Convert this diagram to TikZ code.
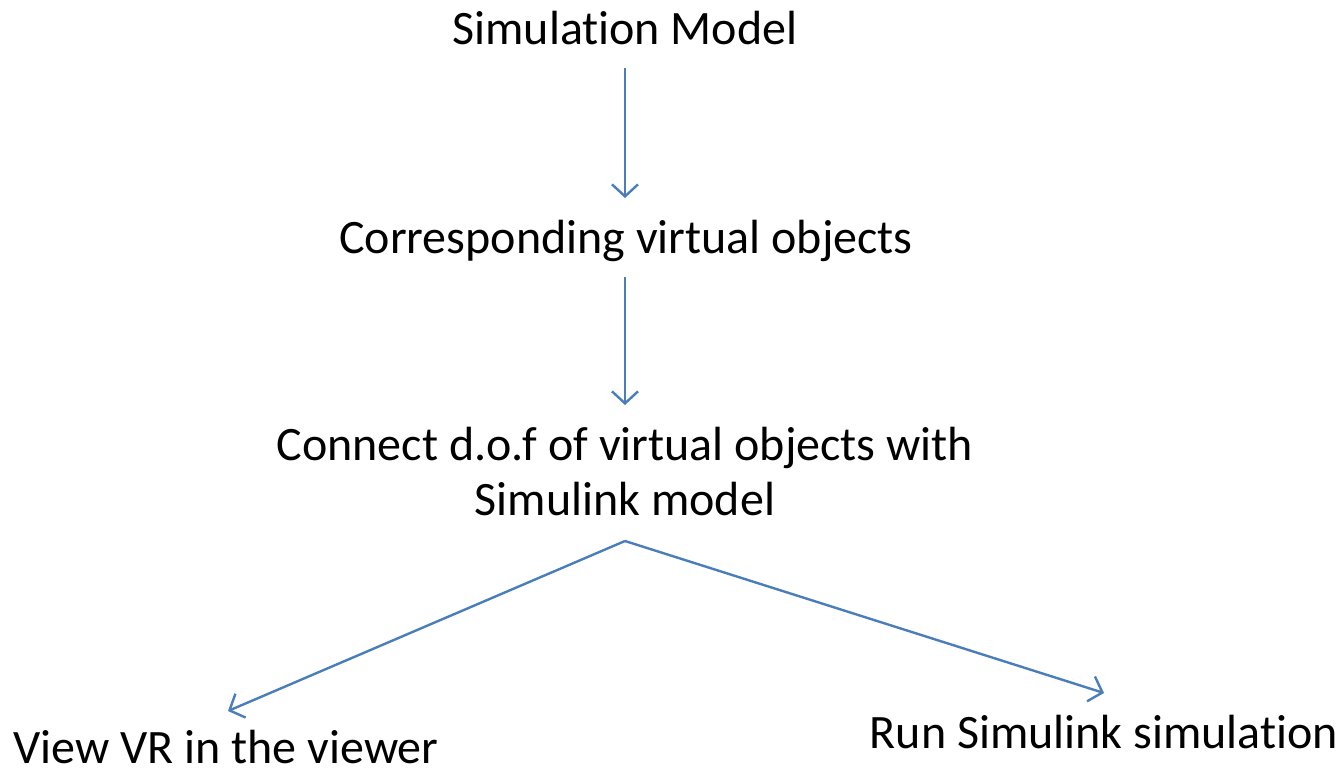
\documentclass[tikz,border=0pt]{standalone}
\usepackage{fontspec}
\setmainfont{Carlito}[Ligatures=NoCommon]
\usetikzlibrary{arrows.meta}
\definecolor{arrowblue}{HTML}{4A7EBB}
\begin{document}
\begin{tikzpicture}[x=1pt,y=-1pt,
  lbl/.style={inner sep=0pt,anchor=base,font=\fontsize{48}{56}\selectfont},
  conn/.style={draw=arrowblue,line width=2.4pt,-{Straight Barb[length=12pt,width=26pt,line width=2.4pt]}}]
\useasboundingbox (0,0) rectangle (1344,771);
\node[lbl] (sim) at (625,44) {Simulation Model};
\node[lbl] (cor) at (626,253) {Corresponding virtual objects};
\node[lbl] (con1) at (625,460) {Connect d.o.f of virtual objects with};
\node[lbl] (con2) at (625,515) {Simulink model};
\node[lbl] (view) at (226,763) {View VR in the viewer};
\node[lbl] (run) at (1104,748) {Run Simulink simulation};
\coordinate (a1s) at (625,68);
\coordinate (a1e) at (625,198);
\coordinate (a2s) at (625,277);
\coordinate (a2e) at (625,405);
\coordinate (apex) at (625,541);
\coordinate (le) at (228,711);
\coordinate (re) at (1104,693);
\draw[conn] (a1s) -- (a1e);
\draw[conn] (a2s) -- (a2e);
\draw[conn] (apex) -- (le);
\draw[conn] (apex) -- (re);
\end{tikzpicture}
\end{document}
